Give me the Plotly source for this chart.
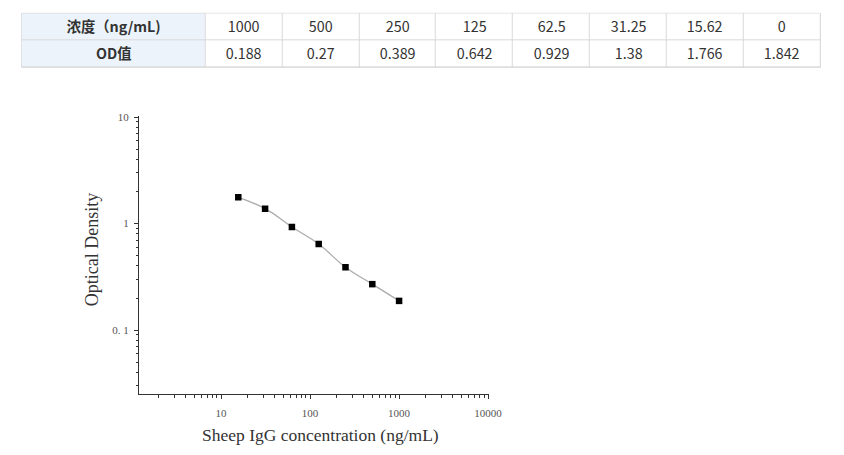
import plotly.graph_objects as go

# ---- data ----
concentrations = [1000, 500, 250, 125, 62.5, 31.25, 15.62, 0]
od_values = [0.188, 0.27, 0.389, 0.642, 0.929, 1.38, 1.766, 1.842]
row_label_conc = "浓度（ng/mL)"
row_label_od = "OD值"
y_tickvals = [0.1, 1, 10]
y_ticktext = ["0. 1", "1", "10"]
x_tickvals = [10, 100, 1000, 10000]
x_ticktext = ["10", "100", "1000", "10000"]
x_title = "Sheep IgG concentration (ng/mL)"
y_title = "Optical Density"

W, H = 844, 455
# empirical page mapping: screen = offset + scale * figure
SX, OX = 0.985, 7.8
SY, OY = 0.989, 13.0


def px_x(v):
    return ((v - OX) / SX) / W


def px_y(v):
    return 1 - ((v - OY) / SY) / H


fig = go.Figure()

# ---- table (heatmap-based grid) ----
n = len(concentrations)
first_w = 184.0
col_w = (799.0 - first_w) / n
x_edges = [0.0, first_w] + [first_w + col_w * (k + 1) for k in range(n)]
y_edges = [0, 1, 2]
header_row = [f"<b>{row_label_conc}</b>"] + [f"{c:g}" for c in concentrations]
od_row = [f"<b>{row_label_od}</b>"] + [f"{v:g}" for v in od_values]
z_fill = [[1] + [0] * n, [1] + [0] * n]

fig.add_trace(go.Heatmap(
    x=x_edges, y=y_edges, z=z_fill, text=[header_row, od_row],
    texttemplate="%{text}",
    textfont=dict(family="Noto Sans CJK SC", size=14.3, color="#333333"),
    colorscale=[[0, "white"], [1, "#ecf3fb"]], zmin=0, zmax=1, showscale=False,
    xgap=1, ygap=1, hoverinfo="skip", xaxis="x2", yaxis="y2",
))

# ---- chart ----
pts = sorted((c, v) for c, v in zip(concentrations, od_values) if c > 0)
xs = [p[0] for p in pts]
ys = [p[1] for p in pts]

fig.add_trace(go.Scatter(x=xs, y=ys, mode="lines",
                         line=dict(color="#ababab", width=1.3, shape="spline", smoothing=1.3),
                         hoverinfo="skip", showlegend=False))
fig.add_trace(go.Scatter(x=xs, y=ys, mode="markers",
                         marker=dict(symbol="square", size=6.5, color="black"), showlegend=False))

serif = "Liberation Serif, Times New Roman, serif"
axis_font = dict(family=serif, size=11, color="#555555")
xtitle_font = dict(family=serif, size=17.5, color="#333333")
ytitle_font = dict(family=serif, size=18, color="#333333")

fig.update_layout(
    width=W, height=H, margin=dict(l=0, r=0, t=0, b=0),
    paper_bgcolor="white", plot_bgcolor="white", showlegend=False,
    xaxis=dict(type="log", range=[0.08, 4.01], domain=[px_x(139), px_x(489)],
               tickvals=x_tickvals, ticktext=x_ticktext, ticks="outside", ticklen=4,
               ticklabelstandoff=5,
               tickcolor="#333333", showline=True, linecolor="#333333", linewidth=1.2,
               showgrid=False, zeroline=False, tickfont=axis_font,
               minor=dict(ticks="outside", ticklen=2.5, dtick="D1", tickcolor="#333333", showgrid=False)),
    yaxis=dict(type="log", range=[-1.60, 1.01], domain=[px_y(394), px_y(116)],
               tickvals=y_tickvals, ticktext=y_ticktext, ticks="outside", ticklen=4,
               ticklabelstandoff=3,
               tickcolor="#333333", showline=True, linecolor="#333333", linewidth=1.2,
               showgrid=False, zeroline=False, tickfont=axis_font,
               minor=dict(ticks="outside", ticklen=2.5, dtick="D1", tickcolor="#333333", showgrid=False)),
    xaxis2=dict(domain=[px_x(21.5), min(1.0, px_x(820.5))], range=[0, 799], visible=False, fixedrange=True),
    yaxis2=dict(domain=[px_y(67.3), min(1.0, px_y(13.3))], range=[2, 0], visible=False, fixedrange=True),
    shapes=[dict(type="rect", xref="x2 domain", yref="y2 domain", x0=0, x1=1, y0=0, y1=1,
                 fillcolor="#d9d9d9", line=dict(color="#d9d9d9", width=1), layer="below")],
    annotations=[
        dict(text=x_title, x=px_x(320), y=px_y(435), xref="paper", yref="paper",
             xanchor="center", yanchor="middle", showarrow=False, font=xtitle_font),
        dict(text=y_title, x=px_x(92), y=px_y(250), xref="paper", yref="paper", textangle=-90,
             xanchor="center", yanchor="middle", showarrow=False, font=ytitle_font),
    ],
)

fig.write_html("out.html")
